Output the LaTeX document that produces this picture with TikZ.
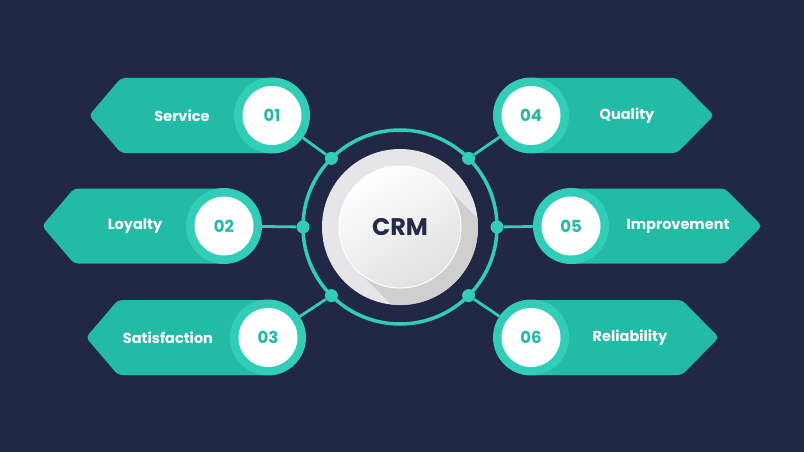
\documentclass[tikz,border=0pt]{standalone}
\usepackage{fontspec}
\setmainfont{Poppins}
\definecolor{navy}{RGB}{33,40,69}
\definecolor{tealdark}{RGB}{35,187,166}
\definecolor{teallight}{RGB}{49,205,182}
\definecolor{ink}{RGB}{36,42,72}
\definecolor{disc}{RGB}{230,230,234}

\begin{document}
\begin{tikzpicture}[x=1pt,y=-1pt,
    ring/.style={circle,fill=teallight,minimum size=76pt,inner sep=0pt},
    num/.style={circle,fill=white,minimum size=59pt,inner sep=0pt,text=tealdark,font=\bfseries\fontsize{16.5}{17}\selectfont},
    tag/.style={text=white,font=\bfseries\fontsize{14.5}{15}\selectfont},
    dot/.style={circle,fill=teallight,minimum size=13pt,inner sep=0pt},
    wire/.style={draw=teallight,line width=2.8pt}]

    \fill[navy] (0,0) rectangle (804,452);
    \useasboundingbox (0,0) rectangle (804,452);

    % banners
    \foreach \cx/\cy/\tip in {272/115.5/89, 224/226/42, 268/337.5/86}
        \fill[tealdark,rounded corners=4pt] (\cx,\cy-37.5) -- (\tip+32,\cy-37.5) -- (\tip,\cy) -- (\tip+32,\cy+37.5) -- (\cx,\cy+37.5) -- cycle;
    \foreach \cx/\cy/\tip in {531/115.5/714, 571/226/762, 531/337.5/719}
        \fill[tealdark,rounded corners=4pt] (\cx,\cy-37.5) -- (\tip-37,\cy-37.5) -- (\tip,\cy) -- (\tip-37,\cy+37.5) -- (\cx,\cy+37.5) -- cycle;

    % centre
    \coordinate (c) at (400,227);
    \draw[teallight,line width=3.5pt] (c) circle (97pt);
    \fill[disc] (c) circle (78pt);
    \begin{scope}
        \clip (c) circle (78pt);
        \fill[black!19] (443.1,183.9) -- (543.1,283.9) -- (456.9,370.1) -- (356.9,270.1) -- cycle;
    \end{scope}
    \shade[top color=white,bottom color=black!12,shading angle=30,draw=white,line width=1pt] (c) circle (61pt);
    \node[text=ink,font=\bfseries\fontsize{24}{24}\selectfont] (crm) at (c) {CRM};

    \node[dot] (d1) at (331.4,158.4) {};
    \node[dot] (d2) at (303,227) {};
    \node[dot] (d3) at (331.4,295.6) {};
    \node[dot] (d4) at (468.6,158.4) {};
    \node[dot] (d5) at (497,227) {};
    \node[dot] (d6) at (468.6,295.6) {};

    \node[ring] (r1) at (272,115.5) {};
    \node[ring] (r2) at (224,226) {};
    \node[ring] (r3) at (268,337.5) {};
    \node[ring] (r4) at (531,115.5) {};
    \node[ring] (r5) at (571,226) {};
    \node[ring] (r6) at (531,337.5) {};

    \draw[wire] (d1) -- (r1);
    \draw[wire] (d2) -- (r2);
    \draw[wire] (d3) -- (r3);
    \draw[wire] (d4) -- (r4);
    \draw[wire] (d5) -- (r5);
    \draw[wire] (d6) -- (r6);

    \node[num] (n1) at (r1) {01};
    \node[num] (n2) at (r2) {02};
    \node[num] (n3) at (r3) {03};
    \node[num] (n4) at (r4) {04};
    \node[num] (n5) at (r5) {05};
    \node[num] (n6) at (r6) {06};

    \node[tag] (t1) at (182,115.5) {Service};
    \node[tag] (t2) at (135,226) {Loyalty};
    \node[tag] (t3) at (168,337.5) {Satisfaction};
    \node[tag] (t4) at (627,115.5) {Quality};
    \node[tag] (t5) at (678,226) {Improvement};
    \node[tag] (t6) at (630,337.5) {Reliability};
\end{tikzpicture}
\end{document}
